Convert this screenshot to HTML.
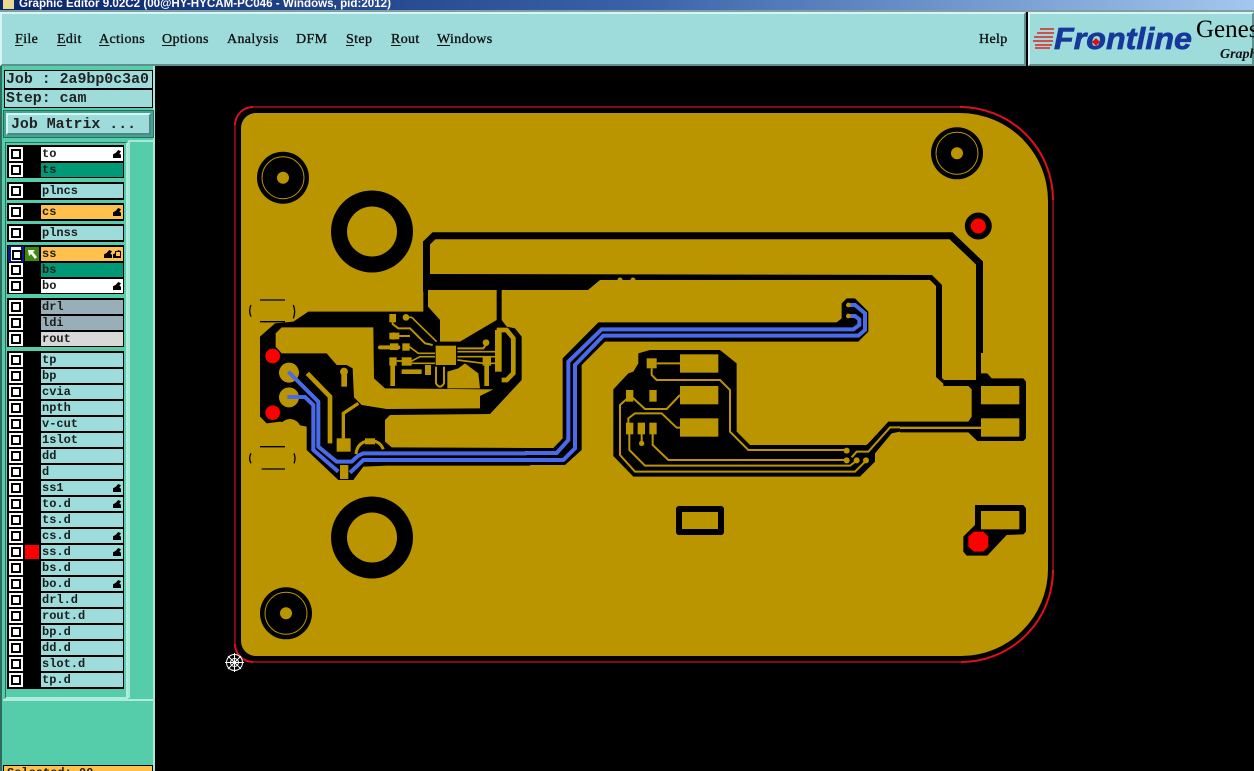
<!DOCTYPE html>
<html><head><meta charset="utf-8"><style>
html,body{margin:0;padding:0;background:#000;width:1254px;height:771px;overflow:hidden}
#w{position:relative;width:1254px;height:771px;overflow:hidden;background:#000}
.a{position:absolute;box-sizing:border-box}
.t{position:absolute;left:0;top:0;width:1254px;height:10px;background:linear-gradient(90deg,#0a246a,#3a62a8 50%,#a6caf0);color:#fff;font:bold 11.6px/7px "Liberation Sans",sans-serif;padding-left:19px;white-space:pre;overflow:hidden}
.m{position:absolute;top:12px;height:54px;background:#9edcdc;border:2px solid;border-color:#d8f4f4 #5f8f8f #5f8f8f #d8f4f4;box-sizing:border-box}
.i{position:absolute;top:31px;font:14px/17px "Liberation Serif",serif;color:#111;letter-spacing:.35px;-webkit-text-stroke:.35px #111}
.i u{text-underline-offset:2px}
.j{position:absolute;left:4px;width:149px;background:#9edcdc;border:1px solid #000;font:bold 14.9px/16px "Liberation Mono",monospace;color:#222;padding-left:1px;box-sizing:border-box;white-space:pre}
.g{position:absolute;left:7px;width:117px;background:#000}
.c{position:absolute;left:9px;width:14px;height:14px;background:#fff;box-sizing:border-box;padding:2px}
.c:after{content:"";display:block;width:10px;height:10px;box-sizing:border-box;border:2px solid #000;background:#fff}
.r{position:absolute;left:41px;width:82px;height:14px;background:#9edcdc;font:bold 12px/14px "Liberation Mono",monospace;color:#1c1c1c;padding-left:1px;box-sizing:border-box;white-space:pre}
.y{background:#ffc04c}.e{background:#009977}.f{background:#fff}.q{background:#98aeb8}.o{background:#d8d8d8}
.h:after{content:"";position:absolute;right:2px;top:3px;width:8px;height:8px;background:#000;clip-path:polygon(0 100%,0 55%,35% 35%,65% 0,100% 15%,80% 45%,100% 60%,100% 100%)}
</style></head><body><div id="w">
<div class="t">Graphic Editor 9.02C2 (00@HY-HYCAM-PC046 - Windows, pid:2012)</div>
<div class="a" style="left:3px;top:0;width:11px;height:9px;background:#e8d890"></div>
<div class="a" style="left:0;top:10px;width:1254px;height:2px;background:#7fa0a0"></div>
<div class="m" style="left:0;width:1026px"></div>
<div class="m" style="left:1028px;width:226px"></div>
<div class="i" style="left:15px"><u>F</u>ile</div>
<div class="i" style="left:57px"><u>E</u>dit</div>
<div class="i" style="left:99px"><u>A</u>ctions</div>
<div class="i" style="left:162px"><u>O</u>ptions</div>
<div class="i" style="left:227px">Analysis</div>
<div class="i" style="left:296px">DFM</div>
<div class="i" style="left:346px"><u>S</u>tep</div>
<div class="i" style="left:391px"><u>R</u>out</div>
<div class="i" style="left:437px"><u>W</u>indows</div>
<div class="i" style="left:979px">Help</div>

<div class="a" style="left:0;top:66px;width:155px;height:705px;background:#55ccaa;border-right:2px solid #a8e8d8;border-left:2px solid #2e6b5e"></div>
<div class="j" style="top:70px;height:19px;line-height:18px">Job : 2a9bp0c3a0</div>
<div class="j" style="top:89px;height:19px;line-height:18px">Step: cam</div>
<div class="a" style="left:3px;top:110px;width:151px;height:28px;background:#3fa890;border:1px solid #2e6b5e"></div>
<div class="j" style="left:6px;top:113px;width:145px;height:22px;line-height:20px;border:2px solid;border-color:#d8f4f4 #4f8888 #4f8888 #d8f4f4;padding-left:3px">Job Matrix ...</div>
<div class="a" style="left:5px;top:142px;width:123px;height:557px;background:#55ccaa;border:1px solid #2e6b5e;border-right:2px solid #b0ecdc;border-bottom:2px solid #b0ecdc"></div>
<div class="a" style="left:128px;top:140px;width:25px;height:558px;background:#55ccaa;border-top:2px solid #a8e8d8;border-left:2px solid #a8e8d8"></div>
<div class="a" style="left:3px;top:699px;width:150px;height:2px;background:#b0ecdc"></div>

<div class="g" style="top:145px;height:33px"></div>
<div class="g" style="top:182px;height:18px"></div>
<div class="g" style="top:203px;height:18px"></div>
<div class="g" style="top:224px;height:18px"></div>
<div class="g" style="top:245px;height:49px"></div>
<div class="g" style="top:298px;height:49px"></div>
<div class="g" style="top:351px;height:338px"></div>

<div class="c" style="top:147px"></div><div class="r f h" style="top:147px">to</div>
<div class="c" style="top:163px"></div><div class="r e" style="top:163px">ts</div>
<div class="c" style="top:184px"></div><div class="r" style="top:184px">plncs</div>
<div class="c" style="top:205px"></div><div class="r y h" style="top:205px">cs</div>
<div class="c" style="top:226px"></div><div class="r" style="top:226px">plnss</div>
<div class="a" style="left:8px;top:246px;width:16px;height:16px;background:#0a1a80"></div>
<div class="c" style="top:247px;left:11px;width:10px;height:14px;padding:3px 1px"></div>
<div class="a" style="left:25px;top:247px;width:14px;height:14px;background:#3c8a10"></div>
<svg class="a" style="left:25px;top:247px" width="14" height="14"><path d="M3 3h7l-2 2 4 5-2 2-4-5-2 2z" fill="#fff"/></svg>
<div class="r y h" style="top:247px;background:#ffc04c">ss</div>
<div class="a" style="left:115px;top:251px;width:6px;height:6px;border:1px solid #000;background:#ffc04c"></div>
<div class="a" style="left:104px;top:250px;width:8px;height:8px;background:#000;clip-path:polygon(0 100%,0 55%,35% 35%,65% 0,100% 15%,80% 45%,100% 60%,100% 100%)"></div>
<div class="c" style="top:263px"></div><div class="r e" style="top:263px">bs</div>
<div class="c" style="top:279px"></div><div class="r f h" style="top:279px">bo</div>
<div class="c" style="top:300px"></div><div class="r q" style="top:300px">drl</div>
<div class="c" style="top:316px"></div><div class="r q" style="top:316px">ldi</div>
<div class="c" style="top:332px"></div><div class="r o" style="top:332px">rout</div>
<div class="c" style="top:353px"></div><div class="r" style="top:353px">tp</div>
<div class="c" style="top:369px"></div><div class="r" style="top:369px">bp</div>
<div class="c" style="top:385px"></div><div class="r" style="top:385px">cvia</div>
<div class="c" style="top:401px"></div><div class="r" style="top:401px">npth</div>
<div class="c" style="top:417px"></div><div class="r" style="top:417px">v-cut</div>
<div class="c" style="top:433px"></div><div class="r" style="top:433px">1slot</div>
<div class="c" style="top:449px"></div><div class="r" style="top:449px">dd</div>
<div class="c" style="top:465px"></div><div class="r" style="top:465px">d</div>
<div class="c" style="top:481px"></div><div class="r h" style="top:481px">ss1</div>
<div class="c" style="top:497px"></div><div class="r h" style="top:497px">to.d</div>
<div class="c" style="top:513px"></div><div class="r" style="top:513px">ts.d</div>
<div class="c" style="top:529px"></div><div class="r h" style="top:529px">cs.d</div>
<div class="c" style="top:545px"></div><div class="r h" style="top:545px">ss.d</div>
<div class="a" style="left:25px;top:545px;width:14px;height:14px;background:#f00"></div>
<div class="c" style="top:561px"></div><div class="r" style="top:561px">bs.d</div>
<div class="c" style="top:577px"></div><div class="r h" style="top:577px">bo.d</div>
<div class="c" style="top:593px"></div><div class="r" style="top:593px">drl.d</div>
<div class="c" style="top:609px"></div><div class="r" style="top:609px">rout.d</div>
<div class="c" style="top:625px"></div><div class="r" style="top:625px">bp.d</div>
<div class="c" style="top:641px"></div><div class="r" style="top:641px">dd.d</div>
<div class="c" style="top:657px"></div><div class="r" style="top:657px">slot.d</div>
<div class="c" style="top:673px"></div><div class="r" style="top:673px">tp.d</div>
<div class="a" style="left:3px;top:765px;width:150px;height:6px;background:#ffc04c;border:1px solid #000;border-bottom:0;overflow:hidden;font:bold 12px/14px 'Liberation Mono',monospace;padding-left:3px;color:#222">Selected: 00</div>

<svg class="a" style="left:0;top:0" width="1254" height="771" viewBox="0 0 1254 771">
<!-- logo -->
<g stroke="#e02020" stroke-width="1.5"><path d="M1040 29H1054M1037 33H1054M1034 37H1053M1033 41H1053M1035 45H1052M1035 48H1050"/></g>
<text x="1054" y="49" font-family="Liberation Sans" font-size="31" font-weight="bold" font-style="italic" fill="#16389a" stroke="#16389a" stroke-width=".7" textLength="138" lengthAdjust="spacingAndGlyphs">Frontline</text>
<path d="M1096 38l4 4-4 4-4-4z" fill="#e01010"/>
<text x="1196" y="37" font-family="Liberation Serif" font-size="25" fill="#000">Genes</text>
<text x="1220" y="58" font-family="Liberation Serif" font-size="14" font-weight="bold" font-style="italic" fill="#111">Graph</text>

<!-- board -->
<path d="M250 107H960A93 93 0 0 1 1053 200V570A92 92 0 0 1 961 662H253A18 18 0 0 1 235 644V125A18 18 0 0 1 253 107Z" fill="none" stroke="#cc1020" stroke-width="1.2"/>
<path d="M960 107A93 93 0 0 1 1053 200M1053 570A92 92 0 0 1 961 662M253 662A18 18 0 0 1 235 644M235 125A18 18 0 0 1 253 107" fill="none" stroke="#dd1020" stroke-width="2"/>
<path d="M256 113H960A88 88 0 0 1 1048 201V569A87 87 0 0 1 961 656H256A15 15 0 0 1 241 641V128A15 15 0 0 1 256 113Z" fill="#bb9500"/>

<!-- holes -->
<g fill="#000"><circle cx="372" cy="231.5" r="41"/><circle cx="372" cy="537.5" r="41"/>
<circle cx="283" cy="177.7" r="26"/><circle cx="286" cy="613.3" r="26"/><circle cx="957" cy="153.3" r="26"/><circle cx="978.3" cy="226" r="13.5"/></g>
<g fill="#bb9500"><circle cx="372" cy="231.5" r="25"/><circle cx="372" cy="537.5" r="25"/>
<circle cx="283" cy="177.7" r="6"/><circle cx="286" cy="613.3" r="6"/><circle cx="957" cy="153.3" r="6"/></g>
<g fill="none" stroke="#bb9500" stroke-width="1"><circle cx="283" cy="177.7" r="21"/><circle cx="286" cy="613.3" r="21"/><circle cx="957" cy="153.3" r="21"/></g>
<circle cx="978.3" cy="226" r="7.5" fill="#f00"/>

<!-- long clearances -->
<path d="M426.5 292V243L434 235.7H951L979.5 263V353" fill="none" stroke="#000" stroke-width="7"/>
<path d="M978.5 350V378" fill="none" stroke="#000" stroke-width="5"/>
<polygon points="423,274 932,275 942,285 942,378 946,382 946,386 936,377 936,286 930,280 600,280 588,290 423,290" fill="#000"/>
<circle cx="620" cy="280" r="2.5" fill="#bb9500"/><circle cx="633" cy="280" r="2.5" fill="#bb9500"/>
<rect x="676" y="506" width="48" height="29" rx="3" fill="#000"/><rect x="682" y="512" width="36" height="17" fill="#bb9500"/>

<g transform="translate(900 200) scale(.33333)">
<polygon fill="#000" points="228,520 262,520 275,535 370,535 378,545 378,715 370,723 232,723 205,697 0,697 0,665 205,665 215,650 215,568 205,558 130,558 130,540 228,540"/>
<rect x="243" y="558" width="115" height="55" fill="#bb9500"/><rect x="243" y="655" width="115" height="55" fill="#bb9500"/>
<rect x="0" y="680" width="243" height="7" fill="#bb9500"/>
<polygon fill="#000" points="225,915 370,915 378,925 378,995 370,1003 320,1005 262,1067 200,1067 190,1055 190,1010 225,975"/>
<rect x="243" y="933" width="115" height="55" fill="#bb9500"/>
<polygon fill="#f00" points="222,995 250,995 265,1010 265,1040 250,1055 222,1055 205,1040 205,1010"/>
</g>

<!-- right circuit -->
<g transform="translate(600 330) scale(.33333)">
<polygon fill="#000" points="865,275 900,275 900,305 875,310 825,370 825,395 780,440 100,440 40,378 40,178 85,130 100,125 115,100 115,70 150,60 360,60 410,100 410,305 450,345 800,345 810,335"/>
<g fill="#bb9500"><rect x="240" y="73" width="115" height="55"/><rect x="240" y="168" width="115" height="55"/><rect x="240" y="265" width="115" height="55"/>
<rect x="140" y="85" width="30" height="30"/><rect x="78" y="180" width="22" height="35"/><rect x="148" y="180" width="22" height="35"/><rect x="78" y="278" width="22" height="35"/><rect x="113" y="278" width="22" height="35"/><rect x="148" y="278" width="22" height="35"/>
<circle cx="740" cy="362" r="9"/><circle cx="740" cy="391" r="9"/><circle cx="770" cy="391" r="9"/><circle cx="798" cy="391" r="9"/><circle cx="125" cy="340" r="8"/></g>
<g fill="none" stroke="#bb9500" stroke-width="6">
<path d="M170 100H240M155 115V135L170 150H360L390 180V305L445 360H740"/>
<path d="M88 200L60 225V375L105 425H765L798 392"/>
<path d="M92 200L100 205L135 237H200L240 195"/>
<path d="M85 280V265L105 250H185L230 293H240"/>
<path d="M88 310V360L135 407H750L770 392"/>
<path d="M125 310V340"/>
<path d="M158 310V345L205 390H740"/>
<path d="M755 382L770 365H805L870 292H900"/>
</g></g>

<!-- left circuit -->
<g transform="translate(230 290) scale(.33333)">
<polygon fill="#000" points="90,140 135,100 190,95 235,65 580,65 580,0 815,0 815,90 830,110 855,115 875,140 875,270 780,372 480,375 465,390 465,455 485,472 900,474 900,527 470,527 400,530 370,570 325,570 230,480 230,410 205,405 150,395 110,400 90,380"/>
<polygon fill="#bb9500" points="137,130 155,112 430,112 432,265 465,295 790,298 750,318 750,355 470,357 395,345 372,322 368,235 350,225 320,225 290,190 155,190 137,170"/>
<circle cx="180" cy="420" r="33" fill="#bb9500"/>
<g fill="#bb9500"><circle cx="177" cy="248" r="30"/><circle cx="177" cy="322" r="30"/>
<rect x="320" y="445" width="42" height="40"/><rect x="330" y="525" width="25" height="42"/>
<circle cx="342" cy="245" r="12"/><rect x="334" y="240" width="17" height="50"/></g>
<g fill="none" stroke="#bb9500"><path d="M232 250L300 320V460" stroke-width="14"/><path d="M340 445V370L385 340" stroke-width="10"/>
<path d="M378 492Q382 455 420 452Q450 452 460 478" stroke-width="9"/></g>
<rect x="405" y="445" width="30" height="18" fill="#bb9500"/>
<g fill="none" stroke="#000" stroke-width="4">
<path d="M90 30H165M90 95H165M63 45Q55 62 63 80M190 45Q198 65 190 85"/>
<path d="M90 470H165M95 537H165M63 490Q55 505 63 520M192 490Q198 505 192 520"/></g>
<circle cx="128" cy="198" r="22" fill="#f00"/><circle cx="128" cy="368" r="22" fill="#f00"/>
<g fill="none" stroke="#4a6be8" stroke-width="12">
<path d="M175 245L265 335V470L320 515H365L385 497L400 490H910" stroke-linejoin="round"/>
<path d="M172 321H225L250 345V480L325 545"/>
<path d="M360 548L400 510H910"/></g>
</g>

<!-- IC detail -->
<g transform="translate(370 300) scale(.33333)">
<polygon fill="#bb9500" points="174,-30 380,-30 380,60 270,125 210,125 210,60 174,20"/>
<polygon fill="#bb9500" points="232,265 232,215 265,205 285,190 325,220 330,265"/>
<rect x="197" y="137" width="61" height="58" fill="#bb9500"/>
<g fill="#bb9500"><rect x="58" y="42" width="20" height="25"/><circle cx="108" cy="52" r="10"/><rect x="58" y="98" width="30" height="20"/><circle cx="70" cy="108" r="11"/><rect x="60" y="130" width="25" height="20"/><rect x="97" y="130" width="22" height="22"/><rect x="58" y="172" width="22" height="25"/><rect x="95" y="172" width="30" height="25"/><rect x="338" y="172" width="25" height="25"/><circle cx="348" cy="128" r="10"/><rect x="165" y="195" width="18" height="30"/><rect x="375" y="90" width="20" height="125"/></g>
<g fill="none" stroke="#bb9500" stroke-width="6">
<path d="M68 67V72L85 85H120L165 130L188 135"/>
<path d="M108 52H125L200 125" stroke-width="5"/>
<path d="M85 108H120"/>
<path d="M118 140L145 160H195" stroke-width="5"/>
<path d="M80 183H125L150 170H195" stroke-width="5"/>
<path d="M125 190H195" stroke-width="5"/>
<path d="M198 200V250Q210 270 222 250V200"/>
<path d="M262 145H340L352 128"/>
<path d="M262 155H385M262 170H385" stroke-width="5"/>
<path d="M262 180L340 190H385" stroke-width="5"/>
<path d="M380 90H410L430 115V220L410 240H395" stroke-width="14"/>
<path d="M30 142H85" stroke-width="12" stroke-linecap="round"/>
<path d="M68 195V258M350 195V258" stroke-width="14"/>
<path d="M95 215H155" stroke-width="14"/>
</g></g>

<!-- blue route -->
<g transform="translate(540 290) scale(.33333)">
<polygon fill="#000" points="-40,474 40,474 68,445 68,205 175,97 890,97 905,85 905,40 920,25 945,25 985,65 985,125 955,155 195,155 125,225 125,480 75,525 -40,525"/>
<g fill="none" stroke="#4a6be8" stroke-width="12">
<path d="M-45 489H50L85 450V215L185 118H940L958 105V88L945 78H925"/>
<path d="M-45 510H70L105 475V225L190 137H955L975 120V70L945 45H925"/></g>
<circle cx="925" cy="45" r="7" fill="#bb9500"/><circle cx="925" cy="78" r="7" fill="#bb9500"/>
</g>

<!-- origin mark -->
<g fill="none" stroke="#fff" stroke-width="1"><circle cx="234.500" cy="662.500" r="8"/><circle cx="234.500" cy="662.500" r="4"/><path d="M225 662.500H244M234.500 653V672M228 656L241 669M241 656L228 669"/></g>
</svg>
</div></body></html>
